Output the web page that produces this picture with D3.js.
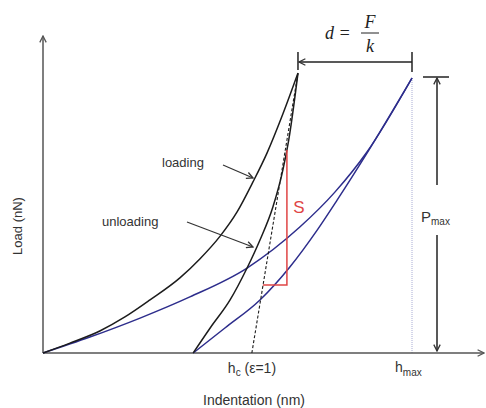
<!DOCTYPE html>
<html>
<head>
<meta charset="utf-8">
<script src="https://cdn.jsdelivr.net/npm/d3@7"></script>
<style>
  body { margin: 0; background: #fff; }
  text { font-family: "Liberation Sans", Arial, sans-serif; fill: #333; }
</style>
</head>
<body>
<div id="chart"></div>
<script>
const width = 486,
  height = 408;

// indentation (hmax = 100) and load (Pmax = 100)
const blackLoading = [[0,0],[7.3,3.6],[15.4,8.0],[22.2,13.1],[29.0,19.3],[37.1,27.3],[42.5,34.2],[48.0,42.5],[52.6,51.3],[56.9,62.2],[60.7,72.7],[65.0,86.9],[69.1,101.8]];
const blackUnloading = [[40.7,0],[45.3,9.1],[50.7,19.3],[55.3,30.9],[58.8,41.1],[62.3,53.1],[65.0,66.5],[66.6,77.5],[69.1,101.8]];
const blueLoading = [[0,0],[12.7,5.8],[26.3,12.7],[39.8,20.4],[55.3,30.9],[69.6,45.8],[79.1,58.5],[87.8,73.1],[100,100]];
const blueUnloading = [[40.7,0],[49.3,9.1],[58.8,19.3],[66.9,31.3],[74.3,44.7],[79.7,55.6],[87.8,72.7],[100,100]];
const tangentLine = [[56.6,0],[69.1,101.8]];
const stiffnessTriangle = [[59.6,24.7],[66.1,24.7],[66.1,73.8]];

const hc = 56.6, hmax = 100, hPeak = 69.1;

const xscale = d3.scaleLinear().domain([0,100]).range([43,412]);
const yscale = d3.scaleLinear().domain([0,100]).range([353,78]);

const svg = d3.select("#chart").append("svg")
  .attr("width", width)
  .attr("height", height);

const defs = svg.append("defs");
function addMarker(id, color){
  defs.append("marker")
    .attr("id", id)
    .attr("viewBox", "0 0 10 10")
    .attr("refX", 9).attr("refY", 5)
    .attr("markerWidth", 8).attr("markerHeight", 8)
    .attr("markerUnits", "userSpaceOnUse")
    .attr("orient", "auto")
    .append("path")
    .attr("d", "M1,1 L9,5 L1,9")
    .attr("fill", "none")
    .attr("stroke", color)
    .attr("stroke-width", 1.6);
}
addMarker("arr", "#333");
addMarker("arrAxis", "#555");

const line = d3.line()
  .x(d => xscale(d[0]))
  .y(d => yscale(d[1]))
  .curve(d3.curveMonotoneX);

// hmax guide
svg.append("line")
  .attr("x1", xscale(hmax)).attr("x2", xscale(hmax))
  .attr("y1", yscale(0)).attr("y2", yscale(100))
  .attr("stroke", "#a8acd4")
  .attr("stroke-width", 1)
  .attr("stroke-dasharray", "1,1");

// axes
svg.append("line")
  .attr("x1", xscale(0)).attr("y1", yscale(0))
  .attr("x2", xscale(0)).attr("y2", 36)
  .attr("stroke", "#555").attr("stroke-width", 1.5)
  .attr("marker-end", "url(#arrAxis)");
svg.append("line")
  .attr("x1", xscale(0)).attr("y1", yscale(0))
  .attr("x2", 484).attr("y2", yscale(0))
  .attr("stroke", "#555").attr("stroke-width", 1.5)
  .attr("marker-end", "url(#arrAxis)");

// curves
[[blueLoading,"#2d2d8c"],[blueUnloading,"#2d2d8c"],[blackLoading,"#1c1c1c"],[blackUnloading,"#1c1c1c"]].forEach(c => {
  svg.append("path")
    .datum(c[0])
    .attr("d", line)
    .attr("fill", "none")
    .attr("stroke", c[1])
    .attr("stroke-width", 1.5);
});

svg.append("path")
  .datum(tangentLine)
  .attr("d", d3.line().x(d => xscale(d[0])).y(d => yscale(d[1])))
  .attr("fill", "none")
  .attr("stroke", "#1c1c1c")
  .attr("stroke-width", 1.1)
  .attr("stroke-dasharray", "3,2");

svg.append("path")
  .datum(stiffnessTriangle)
  .attr("d", d3.line().x(d => xscale(d[0])).y(d => yscale(d[1])))
  .attr("fill", "none")
  .attr("stroke", "#e04545")
  .attr("stroke-width", 1.5);

svg.append("text")
  .attr("x", 299).attr("y", 213)
  .attr("text-anchor", "middle")
  .style("font-size", "17px")
  .style("fill", "#e04545")
  .text("S");

// labels with arrows
svg.append("text").attr("x", 162).attr("y", 167).style("font-size", "13px").text("loading");
svg.append("line")
  .attr("x1", 223).attr("y1", 165).attr("x2", 253).attr("y2", 178)
  .attr("stroke", "#333").attr("stroke-width", 1.2)
  .attr("marker-end", "url(#arr)");
svg.append("text").attr("x", 102).attr("y", 226).style("font-size", "13px").text("unloading");
svg.append("line")
  .attr("x1", 187).attr("y1", 222).attr("x2", 253).attr("y2", 247)
  .attr("stroke", "#333").attr("stroke-width", 1.2)
  .attr("marker-end", "url(#arr)");

// d = F/k displacement
const dY = 62;
svg.append("line")
  .attr("x1", xscale(hmax)).attr("y1", dY).attr("x2", xscale(hPeak) + 1).attr("y2", dY)
  .attr("stroke", "#222").attr("stroke-width", 1.5)
  .attr("marker-end", "url(#arr)");
svg.append("line")
  .attr("x1", xscale(hmax)).attr("x2", xscale(hmax)).attr("y1", 52).attr("y2", 72)
  .attr("stroke", "#222").attr("stroke-width", 1.5);
svg.append("line")
  .attr("x1", xscale(hPeak)).attr("x2", xscale(hPeak)).attr("y1", 52).attr("y2", 70)
  .attr("stroke", "#222").attr("stroke-width", 1.5);

const serif = "'Liberation Serif', 'Times New Roman', serif";
svg.append("text").attr("x", 325).attr("y", 39)
  .style("font-family", serif).style("font-style", "italic").style("font-size", "18px").style("fill", "#222")
  .text("d =");
svg.append("text").attr("x", 370).attr("y", 28).attr("text-anchor", "middle")
  .style("font-family", serif).style("font-style", "italic").style("font-size", "18px").style("fill", "#222")
  .text("F");
svg.append("line").attr("x1", 361).attr("x2", 379).attr("y1", 33).attr("y2", 33)
  .attr("stroke", "#222").attr("stroke-width", 1);
svg.append("text").attr("x", 370).attr("y", 52).attr("text-anchor", "middle")
  .style("font-family", serif).style("font-style", "italic").style("font-size", "18px").style("fill", "#222")
  .text("k");

// Pmax
const pX = 437;
svg.append("line").attr("x1", 423).attr("x2", 449).attr("y1", yscale(100) - 1).attr("y2", yscale(100) - 1)
  .attr("stroke", "#222").attr("stroke-width", 1.5);
svg.append("line").attr("x1", pX).attr("x2", pX).attr("y1", 185).attr("y2", yscale(100))
  .attr("stroke", "#222").attr("stroke-width", 1.5)
  .attr("marker-end", "url(#arr)");
svg.append("line").attr("x1", pX).attr("x2", pX).attr("y1", 235).attr("y2", yscale(0) - 2)
  .attr("stroke", "#222").attr("stroke-width", 1.5)
  .attr("marker-end", "url(#arr)");
const pm = svg.append("text").attr("x", 421).attr("y", 222).style("font-size", "15px");
pm.append("tspan").text("P");
pm.append("tspan").attr("dy", 3).style("font-size", "10px").text("max");

// x annotations
const hcT = svg.append("text").attr("x", xscale(hc) - 24).attr("y", 373).style("font-size", "14px");
hcT.append("tspan").text("h");
hcT.append("tspan").attr("dy", 3).style("font-size", "10px").text("c");
hcT.append("tspan").attr("dy", -3).text(" (\u03b5=1)");

const hmT = svg.append("text").attr("x", 395).attr("y", 372).style("font-size", "14px");
hmT.append("tspan").text("h");
hmT.append("tspan").attr("dy", 4).style("font-size", "10px").text("max");

// axis titles
svg.append("text")
  .attr("x", 254).attr("y", 405)
  .attr("text-anchor", "middle")
  .style("font-size", "14px")
  .text("Indentation (nm)");
svg.append("text")
  .attr("transform", "translate(22,226) rotate(-90)")
  .attr("text-anchor", "middle")
  .style("font-size", "13px")
  .text("Load (nN)");
</script>
</body>
</html>
